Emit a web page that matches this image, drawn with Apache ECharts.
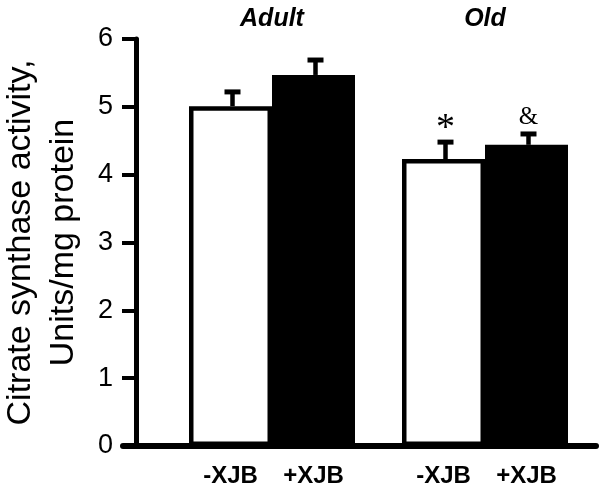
<!DOCTYPE html>
<html>
<head>
<meta charset="utf-8">
<script src="https://cdn.jsdelivr.net/npm/echarts@6/dist/echarts.min.js"></script>
<style>
    html, body { margin: 0; padding: 0; background: #fff; }
    #chart { width: 604px; height: 490px; }
</style>
</head>
<body>
<div id="chart"></div>
<script>
const groups = ['Adult', 'Old'];
const treatments = ['-XJB', '+XJB'];
const minusXJB = [5.01, 4.23];
const plusXJB = [5.47, 4.44];
const minusErr = [0.21, 0.25];
const plusErr = [0.22, 0.16];
const minusMarks = ['', '*'];
const plusMarks = ['', '&'];

const barWidth = 83;
const font = 'Liberation Sans, Arial, sans-serif';
const markFontSize = { '*': 38, '&': 25 };
const markGap = { '*': -6, '&': 4 };

// error bar (up only) + significance mark, shifted to the bar's slot
function errorSeries(values, errs, marks, side) {
    return {
        type: 'custom',
        z: 5,
        data: values.map((v, i) => [i, v, errs[i]]),
        renderItem: function (params, api) {
            const i = api.value(0);
            const top = api.coord([i, api.value(1)]);
            const end = api.coord([i, api.value(1) + api.value(2)]);
            const x = top[0] + side * barWidth / 2 + 2;
            const children = [
                { type: 'line', shape: { x1: x, y1: top[1], x2: x, y2: end[1] },
                  style: { stroke: '#000', lineWidth: 4.5 } },
                { type: 'line', shape: { x1: x - 8, y1: end[1], x2: x + 8, y2: end[1] },
                  style: { stroke: '#000', lineWidth: 5 } }
            ];
            const mark = marks[params.dataIndex];
            if (mark) {
                children.push({
                    type: 'text',
                    style: { text: mark, x: x, y: end[1] - markGap[mark], align: 'center', verticalAlign: 'bottom',
                             fontSize: markFontSize[mark], fontFamily: 'Liberation Serif, Times New Roman, serif', fill: '#000' }
                });
            }
            return { type: 'group', children: children };
        }
    };
}

const chart = echarts.init(document.getElementById('chart'));
chart.setOption({
    animation: false,
    grid: [
        { left: 165.5, right: 12.5, top: 39, bottom: 44, outerBoundsMode: 'none' },
        { left: 123, right: 8, top: 39, bottom: 44, outerBoundsMode: 'none' }
    ],
    xAxis: [
        {
            type: 'category', gridIndex: 0, data: groups,
            axisLine: { show: false }, axisTick: { show: false }, axisLabel: { show: false }
        },
        {
            type: 'category', gridIndex: 0, position: 'top', data: groups,
            axisLine: { show: false }, axisTick: { show: false },
            axisLabel: { margin: 7, fontSize: 25, fontWeight: 'bold', fontStyle: 'italic',
                         color: '#000', fontFamily: font }
        },
        {
            type: 'value', gridIndex: 1, min: 0, max: 1,
            axisLine: { show: true, onZero: false, lineStyle: { color: '#000', width: 6 } },
            axisTick: { show: false }, axisLabel: { show: false }, splitLine: { show: false }
        }
    ],
    yAxis: [
        {
            type: 'value', gridIndex: 0, min: 0, max: 6, interval: 1, offset: 29.5,
            name: 'Citrate synthase activity,\nUnits/mg protein',
            nameLocation: 'middle', nameGap: 51,
            nameTextStyle: { fontSize: 34, lineHeight: 43, color: '#000', fontFamily: font },
            axisLine: { show: true, lineStyle: { color: '#000', width: 5 } },
            axisTick: { show: true, length: 14, lineStyle: { color: '#000', width: 4 } },
            axisLabel: { margin: 23, fontSize: 27, color: '#000', fontFamily: font },
            splitLine: { show: false }
        },
        { type: 'value', gridIndex: 1, min: 0, max: 6, show: false }
    ],
    series: [
        {
            type: 'bar', name: treatments[0], data: minusXJB, barWidth: barWidth, barGap: 0,
            itemStyle: { color: '#fff', borderColor: '#000', borderWidth: 4.5 },
            label: { show: true, position: 'bottom', distance: 18, formatter: treatments[0],
                     fontSize: 24, fontWeight: 'bold', color: '#000', fontFamily: font }
        },
        {
            type: 'bar', name: treatments[1], data: plusXJB, barWidth: barWidth, barGap: 0,
            itemStyle: { color: '#000' },
            label: { show: true, position: 'bottom', distance: 18, formatter: treatments[1],
                     fontSize: 24, fontWeight: 'bold', color: '#000', fontFamily: font }
        },
        errorSeries(minusXJB, minusErr, minusMarks, -1),
        errorSeries(plusXJB, plusErr, plusMarks, 1)
    ]
});
</script>
</body>
</html>
